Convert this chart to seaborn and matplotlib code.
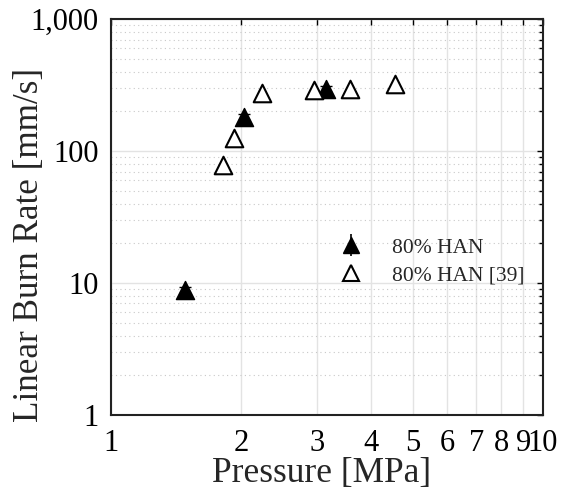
import numpy as np
import pandas as pd
import matplotlib
matplotlib.use("Agg")
import matplotlib.pyplot as plt
import seaborn as sns
from matplotlib.ticker import FixedLocator, FuncFormatter, LogLocator, NullFormatter
from matplotlib.lines import Line2D

# 本研究数据 (实心三角)
p_han = [1.48, 2.03, 3.15]
r_han = [8.8, 181, 295]
r_han_err = [0.5, 10, 14]

# 文献 [39] 数据 (空心三角)
p_ref = [1.82, 1.93, 2.24, 2.95, 3.57, 4.54]
r_ref = [78, 125, 275, 290, 295, 322]

x_ticks = [1, 2, 3, 4, 5, 6, 7, 8, 9, 10]
y_ticks = [1, 10, 100, 1000]

sns.set_style("white")
plt.rcParams['font.family'] = ['Liberation Serif', 'DejaVu Serif']
plt.rcParams['mathtext.fontset'] = 'stix'

fig = plt.figure(figsize=(5.61, 4.9), dpi=100)
ax = fig.add_axes([0.198, 0.153, 0.770, 0.808])

df_han = pd.DataFrame({"p": p_han, "r": r_han})
df_ref = pd.DataFrame({"p": p_ref, "r": r_ref})

ax.errorbar(p_han, r_han, yerr=r_han_err, fmt="none", ecolor="black",
            elinewidth=1.2, capsize=4, zorder=3)
sns.scatterplot(data=df_han, x="p", y="r", marker="^", s=170, color="black",
                edgecolor="black", linewidth=1.0, ax=ax, zorder=4)
sns.scatterplot(data=df_ref, x="p", y="r", marker="^", s=160, facecolor="white",
                edgecolor="black", linewidth=1.5, ax=ax, zorder=4)

ax.set_xscale("log")
ax.set_yscale("log")
ax.set_xlim(1, 10)
ax.set_ylim(1, 1000)

ax.xaxis.set_major_locator(FixedLocator(x_ticks))
ax.xaxis.set_major_formatter(FuncFormatter(lambda v, pos: f"{int(round(v))}"))
ax.xaxis.set_minor_formatter(NullFormatter())
ax.yaxis.set_major_locator(FixedLocator(y_ticks))
ax.yaxis.set_major_formatter(FuncFormatter(lambda v, pos: f"{int(round(v)):,}"))
ax.yaxis.set_minor_locator(LogLocator(base=10, subs=np.arange(2, 10)))
ax.yaxis.set_minor_formatter(NullFormatter())

ax.grid(True, which="major", color="#e3e3e3", linewidth=1.0, linestyle="-")
ax.grid(True, which="minor", axis="y", color="#c8c8c8", linewidth=0.8, linestyle=(0, (1, 3)))
ax.set_axisbelow(True)

ax.tick_params(which="both", direction="in", top=True, right=True,
               length=4, width=1.0, labelsize=22, colors="black")
ax.tick_params(which="minor", length=3)
ax.tick_params(axis="x", pad=10)
ax.tick_params(axis="y", pad=9)
for s in ax.spines.values():
    s.set_color("#222222")
    s.set_linewidth(1.5)

ax.set_xlabel("Pressure [MPa]", fontsize=25.5)
ax.set_ylabel("Linear Burn Rate [mm/s]", fontsize=25.3)
ax.xaxis.set_label_coords(0.488, -0.106)
ax.yaxis.set_label_coords(-0.150, 0.429)

h1 = ax.errorbar([], [], yerr=[], fmt="^", color="black", markersize=11,
                 capsize=4, elinewidth=1.2)
h2 = Line2D([], [], marker="^", linestyle="none", markersize=12,
            markerfacecolor="white", markeredgecolor="black", markeredgewidth=1.5)
ax.legend([h1, h2], ["80% HAN", "80% HAN [39]"], loc="upper left",
          bbox_to_anchor=(0.485, 0.497), frameon=False, fontsize=15.5,
          handlelength=1.0, handletextpad=1.4, labelspacing=0.35)

plt.savefig("out.png", dpi=100)
